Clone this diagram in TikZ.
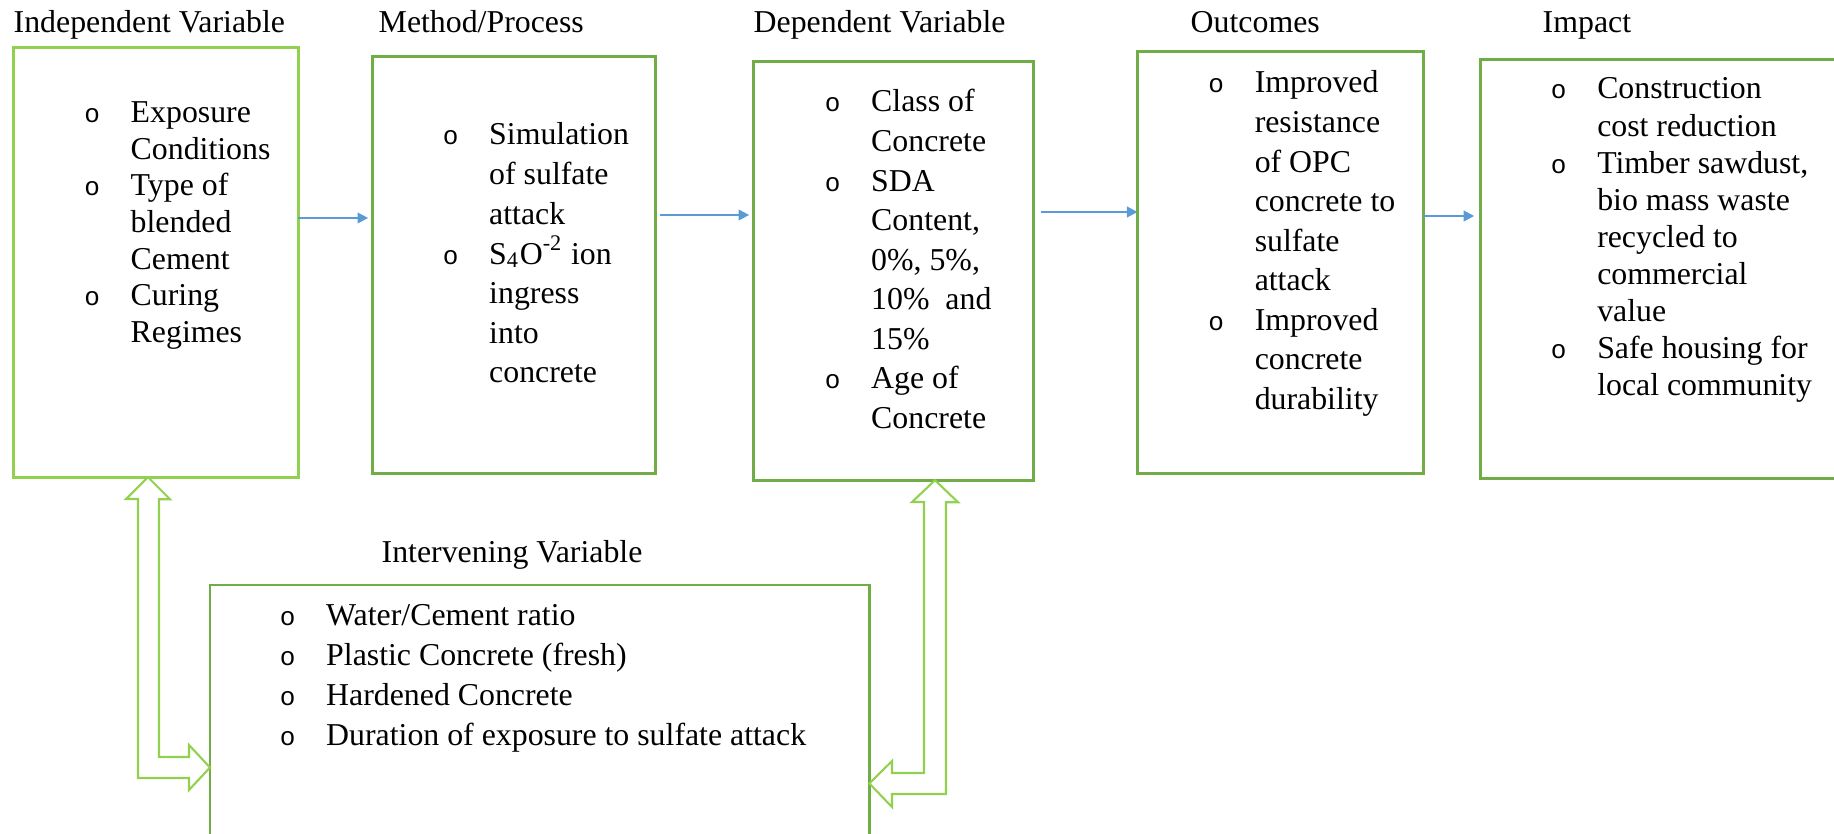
\documentclass[tikz,border=0pt]{standalone}
\usepackage{fontspec}
\setmainfont{Liberation Serif}
\newfontfamily\bulfont{Liberation Mono}
\usetikzlibrary{arrows.meta}
\usetikzlibrary{calc,positioning}

\definecolor{lgreen}{HTML}{92D050}
\definecolor{dgreen}{HTML}{70AD47}
\definecolor{flowblue}{HTML}{5B9BD5}

\newcommand{\bul}{{\hspace{0.5pt}\bulfont\fontsize{7.4pt}{7.4pt}\selectfont o}}
\newcommand{\blist}[2]{\fontsize{9.05pt}{#1}\selectfont\begin{tabular}[t]{@{}p{0.48cm}@{}l@{}}#2\end{tabular}}

\begin{document}
\begin{tikzpicture}[>=Stealth, x=0.01cm, y=-0.01cm,
	varbox/.style={draw=#1, line width=0.85pt, anchor=north west, inner sep=0pt, outer sep=0pt},
	heading/.style={anchor=base west, inner sep=0pt, font=\fontsize{9.05pt}{11pt}\selectfont},
	bullets/.style={anchor=base west, inner sep=0pt},
	flow/.style={-{Triangle[length=3pt,width=3pt]}, flowblue, line width=0.6pt},
	hollow/.style={draw=lgreen, line width=0.6pt, line join=miter}]
	\useasboundingbox (0,0) rectangle (1834,834);
	
	% Titulos
	\node[heading] (tiv) at (13,33) {Independent Variable};
	\node[heading] (tmp) at (378,33) {Method/Process};
	\node[heading] (tdv) at (753,33) {Dependent Variable};
	\node[heading] (toc) at (1190,33) {Outcomes};
	\node[heading] (tim) at (1542,33) {Impact};
	\node[heading] (tivr) at (381,562) {Intervening Variable};
	
	% Caixas
	\node[varbox=lgreen, minimum width=2.845cm, minimum height=4.29cm] (iv) at (13.5,48) {};
	\node[varbox=dgreen, minimum width=2.83cm, minimum height=4.16cm] (mp) at (372,57) {};
	\node[varbox=dgreen, minimum width=2.80cm, minimum height=4.18cm] (dv) at (753,62) {};
	\node[varbox=dgreen, minimum width=2.855cm, minimum height=4.21cm] (oc) at (1137.5,52) {};
	\node[varbox=dgreen, minimum width=3.70cm, minimum height=4.18cm] (im) at (1480.5,60) {};
	\node[varbox=dgreen, minimum width=6.59cm, minimum height=2.70cm] (ivr) at (210,585) {};
	
	% Listas
	\node[bullets] (liv) at (82,123) {\blist{10.38pt}{\bul & Exposure\\ & Conditions\\ \bul & Type of\\ & blended\\ & Cement\\ \bul & Curing\\ & Regimes}};
	\node[bullets] (lmp) at (440.5,145) {\blist{11.24pt}{\bul & Simulation\\ & of sulfate\\ & attack\\ \bul & S\textsubscript{4}O\textsuperscript{-2} ion\\ & ingress\\ & into\\ & concrete}};
	\node[bullets] (ldv) at (822.5,112) {\blist{11.24pt}{\bul & Class of\\ & Concrete\\ \bul & SDA\\ & Content,\\ & 0\%, 5\%,\\ & 10\% \ and\\ & 15\%\\ \bul & Age of\\ & Concrete}};
	\node[bullets] (loc) at (1206,93) {\blist{11.24pt}{\bul & Improved\\ & resistance\\ & of OPC\\ & concrete to\\ & sulfate\\ & attack\\ \bul & Improved\\ & concrete\\ & durability}};
	\node[bullets] (lim) at (1548.5,99) {\blist{10.53pt}{\bul & Construction\\ & cost reduction\\ \bul & Timber sawdust,\\ & bio mass waste\\ & recycled to\\ & commercial\\ & value\\ \bul & Safe housing for\\ & local community}};
	\node[bullets] (livr) at (277.5,625) {\blist{11.38pt}{\bul & Water/Cement ratio\\ \bul & Plastic Concrete (fresh)\\ \bul & Hardened Concrete\\ \bul & Duration of exposure to sulfate attack}};
	
	% Setas
	\draw[flow, shorten >=1.1pt] (iv.east |- 0,218) -- (mp.west |- 0,218);
	\draw[flow, shorten <=1.4pt, shorten >=1.1pt] (mp.east |- 0,215) -- (dv.west |- 0,215);
	\draw[flow, shorten <=2.2pt] (dv.east |- 0,212) -- (oc.west |- 0,212);
	\draw[flow, shorten >=1.8pt] (oc.east |- 0,216) -- (im.west |- 0,216);
	
	% Setas duplas
	\draw[hollow] (iv.south -| 148,0) -- ++(22,22) -- ++(-11,0) -- (159,757) -- ++(30,0) -- ++(0,-12)
		-- (ivr.west |- 0,767.5) -- (189,790) -- ++(0,-12) -- (138,778) -- (138,499) -- ++(-12,0) -- cycle;
	\draw[hollow] (dv.south -| 935,0) -- ++(23,22) -- ++(-12,0) -- (946,794) -- ++(-54,0) -- ++(0,13)
		-- (ivr.east |- 0,783.5) -- (892,761) -- ++(0,12) -- (924,773) -- (924,502) -- ++(-12,0) -- cycle;
\end{tikzpicture}
\end{document}
